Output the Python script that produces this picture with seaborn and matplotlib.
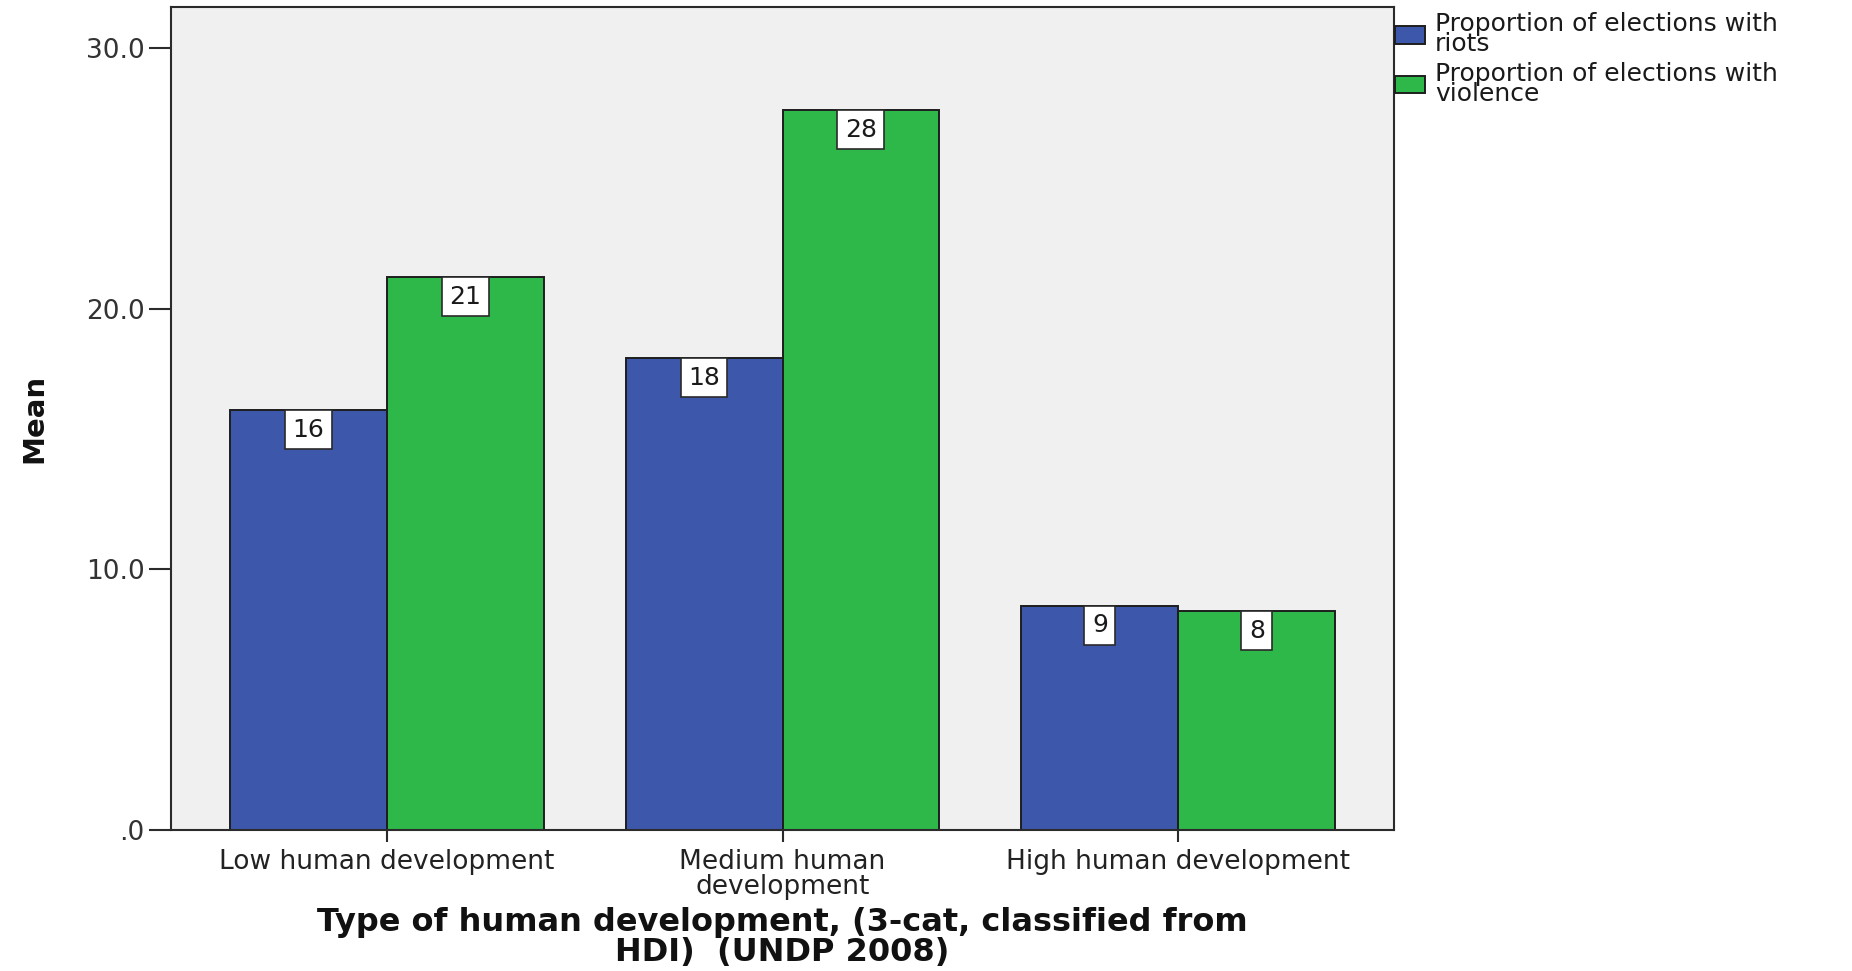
import matplotlib
matplotlib.use("Agg")
import matplotlib.pyplot as plt
import pandas as pd
import seaborn as sns
from matplotlib import font_manager

# Mean proportions (%) by development category
categories = ["Low human development", "Medium human\ndevelopment", "High human development"]
series_names = ["Proportion of elections with\nriots", "Proportion of elections with\nviolence"]
riots = [16.1, 18.1, 8.6]
violence = [21.2, 27.6, 8.4]
y_ticks = [0, 10, 20, 30]
y_tick_labels = [".0", "10.0", "20.0", "30.0"]
colors = ["#3D57AB", "#2EB84A"]

sns.set_style("white")
plt.rcParams["font.family"] = ["DejaVu Sans"]

df = pd.DataFrame({
    "category": categories * 2,
    "series": [series_names[0]] * len(categories) + [series_names[1]] * len(categories),
    "value": riots + violence,
})

W, H = 1852, 971
fig = plt.figure(figsize=(W / 100, H / 100), dpi=100)
ax = fig.add_axes([171 / W, 1 - 830 / H, (1394 - 171) / W, (830 - 7) / H])
ax.set_facecolor("#F0F0F0")

sns.barplot(
    data=df, x="category", y="value", hue="series",
    order=categories, hue_order=series_names,
    palette=dict(zip(series_names, colors)),
    width=0.793, gap=0, errorbar=None, saturation=1,
    edgecolor="#1E1E1E", linewidth=1.4, ax=ax,
)

ax.set_xlim(-0.545, 2.545)
ax.set_ylim(0, 31.57)
ax.set_yticks(y_ticks)
ax.set_yticklabels(y_tick_labels)

# value boxes just under the top of each bar
label_size = 18
box_pad = 0.3
for container, vals in zip(ax.containers, [riots, violence]):
    for bar, v in zip(container, vals):
        ax.annotate(
            f"{v:.0f}", xy=(bar.get_x() + bar.get_width() / 2, v),
            xytext=(0, -box_pad * label_size), textcoords="offset points",
            ha="center", va="top", fontsize=label_size, color="#1A1A1A",
            bbox=dict(boxstyle=f"square,pad={box_pad}", fc="white", ec="#2A2A2A", lw=1.2),
        )

for s in ax.spines.values():
    s.set_visible(True)
    s.set_color("#2B2B2B")
    s.set_linewidth(1.5)

ax.tick_params(axis="y", direction="out", length=16, width=1.5, pad=3,
               labelsize=19, labelcolor="#333333", color="#2B2B2B", left=True)
ax.tick_params(axis="x", direction="out", length=8.6, width=1.5, pad=5,
               labelsize=19, labelcolor="#222222", color="#2B2B2B", bottom=True)
for lbl in ax.get_xticklabels():
    lbl.set_linespacing(0.95)

names = {f.name for f in font_manager.fontManager.ttflist}
if "Liberation Sans Narrow" in names:
    mean_family, mean_size = "Liberation Sans Narrow", 26
else:
    mean_family, mean_size = "DejaVu Sans", 21
ax.set_ylabel("Mean", fontsize=mean_size, fontweight="bold", family=mean_family, color="#111111")
ax.yaxis.set_label_coords(-0.1006, 0.5)

ax.set_xlabel("Type of human development, (3-cat, classified from\nHDI)  (UNDP 2008)",
              fontsize=23, fontweight="bold", linespacing=0.95, color="#111111")
ax.xaxis.set_label_coords(0.5, (830 - 907) / 823)

handles, labels = ax.get_legend_handles_labels()
leg = ax.legend(
    handles, labels, loc="upper left",
    bbox_to_anchor=(1395 / W, 1 - 12 / H), bbox_transform=fig.transFigure,
    frameon=False, borderpad=0, borderaxespad=0, fontsize=18,
    handlelength=1.2, handleheight=0.72, handletextpad=0.4, labelspacing=0.22,
)
for t in leg.get_texts():
    t.set_linespacing(0.8)
    t.set_color("#1A1A1A")

fig.savefig("out.png", dpi=100, facecolor="white")
